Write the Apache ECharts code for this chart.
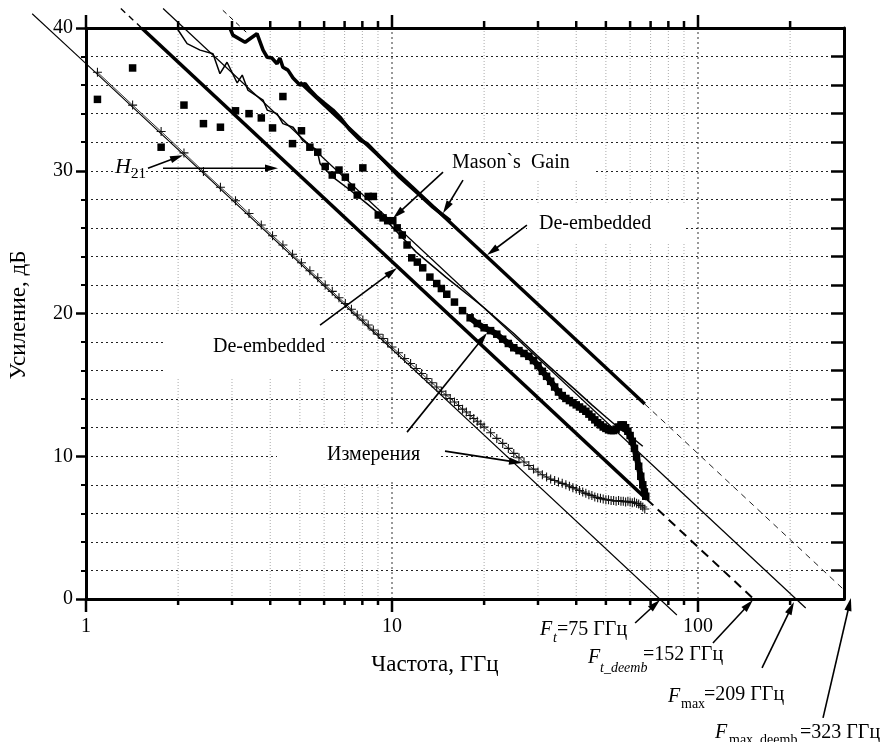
<!DOCTYPE html>
<html><head><meta charset="utf-8">
<script src="https://cdn.jsdelivr.net/npm/echarts@6/dist/echarts.min.js"></script>
<style>html,body{margin:0;padding:0;background:#fff}#c{width:884px;height:742px}</style>
</head><body><div id="c"></div>
<script>
const FONT = '"Liberation Serif","Times New Roman",serif';

// ---- axis ticks ----
const xMajorTicks = [1, 10, 100];
const xMinorTicks = [2,3,4,5,6,7,8,9,20,30,40,50,60,70,80,90,200];

// ---- fit lines [GHz, dB] ----
const h21FitOutside = [0.667, 41.0];                         // start of fit line, left of the plot
const h21Fit = [[1, 37.5], [85.3, -1.12]];                   // Ft = 75
const h21DeembTop = [[1.30, 41.36], [1.52, 40.0]];
const h21DeembSolid = [[1.52, 40.0], [68, 6.99]];            // Ft_deemb = 152
const h21DeembDash = [[68, 6.99], [152, 0]];
const masonFit = [[1.786, 41.37], [224.9, -0.63]];          // Fmax = 209
const masonDeembTop = [[2.80, 41.24], [3.40, 39.55]];
const masonDeembSolid = [[5.0, 36.2], [67, 13.66]];          // Fmax_deemb = 323
const masonDeembDash = [[67, 13.66], [351, -0.72]];

// ---- measured H21 (crosses) ----
const h21Measured = [[1.09,36.9],[1.42,34.6],[1.76,32.75],[2.09,31.25],[2.42,29.95],[2.75,28.85],[3.08,27.9],[3.41,27.0],[3.74,26.2],[4.07,25.45],[4.40,24.8],[4.73,24.15],[5.06,23.55],[5.39,23.0],[5.72,22.5],[6.05,22.0],[6.38,21.55],[6.71,21.1],[7.04,20.7],[7.37,20.3],[7.70,19.9],[8.03,19.55],[8.36,19.2],[8.69,18.85],[9.02,18.55],[9.35,18.25],[9.68,17.95],[10.0,17.65],[10.5,17.25],[11.0,16.85],[11.5,16.5],[12.0,16.15],[12.5,15.8],[13.0,15.45],[13.5,15.15],[14.0,14.85],[14.5,14.55],[15.0,14.3],[15.5,14.05],[16.0,13.8],[16.5,13.55],[17.0,13.3],[17.5,13.1],[18.0,12.85],[18.5,12.65],[19.0,12.45],[19.5,12.25],[20,12.05],[21,11.65],[22,11.25],[23,10.9],[24,10.55],[25,10.2],[26,9.9],[27,9.6],[28,9.35],[29,9.1],[30,8.9],[31,8.7],[32,8.55],[33,8.4],[34,8.3],[35,8.2],[36,8.1],[37,8.0],[38,7.9],[39,7.8],[40,7.7],[41,7.6],[42,7.5],[43,7.4],[44,7.3],[45,7.25],[46,7.15],[47,7.1],[48,7.05],[49,7.0],[50,6.95],[51,6.95],[52,6.9],[53,6.9],[54,6.85],[55,6.9],[56,6.85],[57,6.85],[58,6.8],[59,6.85],[60,6.8],[61,6.75],[62,6.8],[63,6.7],[64,6.65],[65,6.55],[66,6.45],[67,6.3]];

// ---- measured Mason's gain (squares) ----
const masonSquares = [[1.09,35.0],[1.42,37.2],[1.76,31.65],[2.09,34.6],[2.42,33.3],[2.75,33.05],[3.08,34.2],[3.41,34.0],[3.74,33.7],[4.07,33.0],[4.40,35.2],[4.73,31.9],[5.06,32.8],[5.39,31.65],[5.72,31.3],[6.05,30.3],[6.38,29.7],[6.71,30.05],[7.04,29.55],[7.37,28.85],[7.70,28.3],[8.03,30.2],[8.36,28.2],[8.69,28.2],[9.02,26.9],[9.35,26.7],[9.68,26.5],[10.06,26.5],[10.4,26.0],[10.8,25.5],[11.2,24.8],[11.6,23.9],[12.1,23.6],[12.6,23.2],[13.3,22.55],[14.0,22.1],[14.5,21.75],[15.1,21.35],[16.0,20.8],[17.0,20.2],[18.0,19.7],[19.0,19.3],[20,19.0],[21,18.8],[22,18.55],[23,18.2],[24,17.9],[25,17.6],[26,17.4],[27,17.2],[28,17.0],[29,16.7],[30,16.35],[31,15.95],[32,15.6],[33,15.25],[34,14.85],[35,14.5],[36,14.25],[37,14.05],[38,13.9],[39,13.75],[40,13.6],[41,13.45],[42,13.3],[43,13.15],[44,12.95],[45,12.75],[46,12.55],[47,12.35],[48,12.2],[49,12.05],[50,11.95],[51,11.85],[52,11.8],[53,11.8],[54,11.9],[55,12.05],[56,12.2],[57,12.2],[58,12.0],[59,11.75],[60,11.45],[61,11.05],[62,10.55],[63,9.95],[64,9.3],[65,8.6],[66,8.0],[66.8,7.5],[67.5,7.2]];
const denseBandStart = 18;   // GHz, where the square markers merge into a solid band

// ---- measured Mason's gain (thin line) ----
const masonLine = [[1.98,40.0],[2.14,38.9],[2.36,38.45],[2.60,38.2],[2.74,36.8],[2.89,37.6],[3.12,36.15],[3.24,36.7],[3.38,35.65],[3.79,34.95],[3.91,34.25],[4.21,34.0],[4.40,33.3],[4.75,33.05],[5.12,32.1],[5.69,31.45],[5.82,30.5],[6.41,29.55],[7.29,28.65],[8.28,27.7],[9.35,26.75],[12,24.3],[15,22.55],[20,20.4],[25,18.6],[30,17.0],[35,15.7],[40,14.6],[45,13.6],[50,12.75],[55,12.0],[60,11.4],[63,11.05],[66,10.7]];

// ---- de-embedded Mason's gain (thick wiggly) ----
const masonDeembMeas = [[2.955,40.0],[3.02,39.5],[3.31,39.0],[3.62,39.6],[3.79,38.45],[3.91,37.95],[4.05,37.9],[4.21,37.5],[4.30,37.9],[4.40,37.25],[4.57,37.05],[4.75,36.5],[5.0,36.0],[5.2,36.1],[5.40,35.65],[5.69,35.15],[5.95,34.8],[6.41,34.25],[6.76,33.75],[7.29,32.85],[7.86,32.15],[8.28,31.9],[9.35,30.75],[10.6,29.55],[12.1,28.45],[13.6,27.45],[15.5,26.5]];

const chart = echarts.init(document.getElementById('c'));

function lineSeries(data, width, extra) {
  return Object.assign({
    type: 'line', data: data, xAxisIndex: 0, yAxisIndex: 0,
    symbol: 'none', showSymbol: false, clip: false, animation: false, silent: true,
    lineStyle: { color: '#000', width: width }, z: 3
  }, extra || {});
}

const xTickData = xMajorTicks.map(v => [v, 1]).concat(xMinorTicks.map(v => [v, 0]));

const option = {
  animation: false,
  backgroundColor: '#fff',
  grid: { left: 86, top: 28, width: 758, height: 571, containLabel: false },
  xAxis: [
    { type: 'log', logBase: 10, min: 1, max: 300, position: 'bottom',
      axisLine: { show: true, onZero: false, lineStyle: { color: '#000', width: 3 } },
      axisTick: { show: false }, splitLine: { show: false },
      axisLabel: { color: '#000', fontFamily: FONT, fontSize: 20, margin: 18,
        formatter: v => { const l = Math.log10(v); return (Math.abs(l - Math.round(l)) < 1e-6 && v < 200) ? String(Math.round(v)) : ''; } } },
    { type: 'log', logBase: 10, min: 1, max: 300, position: 'top',
      axisLine: { show: true, onZero: false, lineStyle: { color: '#000', width: 3 } },
      axisTick: { show: false }, splitLine: { show: false }, axisLabel: { show: false } }
  ],
  yAxis: [
    { type: 'value', min: 0, max: 40, interval: 10, position: 'left',
      axisLine: { show: true, onZero: false, lineStyle: { color: '#000', width: 3 } },
      axisTick: { show: true, length: 10, lineStyle: { color: '#000', width: 2.5 } },
      minorTick: { show: true, splitNumber: 5, length: 5, lineStyle: { color: '#000', width: 2 } },
      axisLabel: { color: '#000', fontFamily: FONT, fontSize: 20, margin: 13 },
      splitLine: { show: true, lineStyle: { color: '#222', width: 1, type: [2, 3] } },
      minorSplitLine: { show: true, lineStyle: { color: '#222', width: 1, type: [2, 3] } } },
    { type: 'value', min: 0, max: 40, interval: 2, position: 'right',
      axisLine: { show: true, onZero: false, lineStyle: { color: '#000', width: 3 } },
      axisTick: { show: true, inside: true, length: 13, lineStyle: { color: '#000', width: 2.5 } },
      axisLabel: { show: false }, splitLine: { show: false } }
  ],
  series: [
    lineSeries(h21Fit, 1.1),
    lineSeries(h21Measured, 0.9, { symbol: 'path://M4.4,0H5.6V4.4H10V5.6H5.6V10H4.4V5.6H0V4.4H4.4Z', showSymbol: true, showAllSymbol: true, symbolSize: 9, itemStyle: { color: '#111', opacity: 1 }, lineStyle: { color: '#222', width: 0.9 } }),
    lineSeries(h21DeembTop, 1.4, { lineStyle: { color: '#000', width: 1.4, type: [6, 5] } }),
    lineSeries(h21DeembSolid, 3.6),
    lineSeries(h21DeembDash, 2, { lineStyle: { color: '#000', width: 2, type: [9, 6] } }),
    lineSeries(masonFit, 1.2),
    lineSeries(masonDeembTop, 1, { lineStyle: { color: '#000', width: 1, type: [5, 4] } }),
    lineSeries(masonDeembSolid, 3.4),
    lineSeries(masonDeembDash, 1, { lineStyle: { color: '#222', width: 1, type: [6, 5] } }),
    lineSeries(masonLine, 1.5),
    lineSeries(masonDeembMeas, 3.6),
    lineSeries(masonSquares.filter(d => d[0] >= denseBandStart), 6, { lineStyle: { color: '#000', width: 6, join: 'round', cap: 'round' } }),
    { type: 'scatter', data: masonSquares, xAxisIndex: 0, yAxisIndex: 0, symbol: 'rect', symbolSize: 7.5,
      itemStyle: { color: '#000', opacity: 1 }, animation: false, silent: true, z: 3 },
    { type: 'custom', data: xTickData, xAxisIndex: 0, yAxisIndex: 0, clip: false, silent: true, z: 0,
      encode: { x: 0, y: 1 },
      renderItem: function (params, api) {
        const v = api.value(0), major = api.value(1);
        const b = api.coord([v, 0]), t = api.coord([v, 40]);
        const ch = [];
        if (v !== 1) {
          const dark = (v === 10 || v === 100);
          ch.push({ type: 'line', shape: { x1: b[0], y1: b[1], x2: t[0], y2: t[1] },
            style: { stroke: dark ? '#333' : '#aaa', lineWidth: 1, lineDash: dark ? [2, 3] : [1, 2] } });
        }
        ch.push({ type: 'line', shape: { x1: b[0], y1: b[1], x2: b[0], y2: b[1] + (major ? 13 : 6) }, style: { stroke: '#000', lineWidth: 2.5 } });
        ch.push({ type: 'line', shape: { x1: t[0], y1: t[1], x2: t[0], y2: t[1] - (major ? 13 : 7) }, style: { stroke: '#000', lineWidth: 2.5 } });
        return { type: 'group', children: ch };
      } }
  ]
};
chart.setOption(option);

const P = d => chart.convertToPixel({ seriesIndex: 0 }, d);
// pixel x for any frequency (also left of the axis minimum), from the axis' own decade length
const x1px = P([1, 0])[0], decadePx = P([10, 0])[0] - x1px;
const PX = (f, db) => [x1px + Math.log10(f) * decadePx, P([1, db])[1]];

// arrows [from, to] in data coordinates
const arrows = [
  [[1.594, 30.18], [2.075, 31.09]],
  [[1.785, 30.18], [4.24, 30.18]],
  [[14.68, 29.9], [10.08, 26.68]],
  [[17.06, 29.34], [14.68, 27.03]],
  [[27.6, 26.19], [20.44, 24.09]],
  [[5.82, 19.19], [10.38, 23.18]],
  [[11.2, 11.69], [20.44, 18.63]],
  [[14.9, 10.36], [26.6, 9.52]],
  [[62.3, -1.68], [75.1, -0.07]],
  [[111.9, -3.08], [151.2, -0.07]],
  [[161.9, -4.83], [205.9, -0.21]],
  [[256.2, -8.33], [316, 0.07]]
];

function arrowEls(a, b) {
  const p = P(a), q = P(b);
  const dx = q[0] - p[0], dy = q[1] - p[1], L = Math.hypot(dx, dy), ux = dx / L, uy = dy / L;
  const hl = 13, hw = 3.6;
  const bx = q[0] - ux * hl, by = q[1] - uy * hl;
  return [
    { type: 'line', z: 6, shape: { x1: p[0], y1: p[1], x2: bx + ux * 2, y2: by + uy * 2 }, style: { stroke: '#000', lineWidth: 1.6 } },
    { type: 'polygon', z: 6, shape: { points: [[q[0], q[1]], [bx - uy * hw, by + ux * hw], [bx + uy * hw, by - ux * hw]] }, style: { fill: '#000' } }
  ];
}

// text: x = left edge of the glyphs, y = vertical centre of the glyphs; pad = [top, right, bottom, left]
function T(text, x, y, size, opt) {
  opt = opt || {};
  const pad = opt.pad || [0, 0, 0, 0];
  const align = opt.align || 'left';
  return { type: 'text', x: x - (align === 'left' ? pad[3] : 0), y: y - (pad[0] - pad[2]) / 2, z: opt.z || 2, rotation: opt.rotation || 0,
    style: { text: text, fill: '#000', fontFamily: FONT, fontSize: size, fontStyle: opt.italic ? 'italic' : 'normal',
      align: align, verticalAlign: 'middle', textAlign: align, textVerticalAlign: 'middle',
      backgroundColor: opt.pad ? '#fff' : null, padding: pad } };
}

const els = [];
// outside-the-plot start of the H21 fit line
const hs = PX(h21FitOutside[0], h21FitOutside[1]), he = P(h21Fit[0]);
els.push({ type: 'line', z: 3, shape: { x1: hs[0], y1: hs[1], x2: he[0], y2: he[1] }, style: { stroke: '#000', lineWidth: 1.1 } });
arrows.forEach(a => els.push(...arrowEls(a[0], a[1])));
els.push(
  T('Усиление, дБ', 19, 315, 23, { align: 'center', rotation: Math.PI / 2 }),
  T('Частота, ГГц', 435, 665, 23, { align: 'center' }),
  T('H', 115, 167, 22, { italic: true, pad: [2, 0, 2, 2] }),
  T('21', 131, 174, 15, {}),
  T('Mason`s  Gain', 452, 163, 20, { pad: [8, 24, 8, 14] }),
  T('De-embedded', 539, 224, 20, { pad: [10, 34, 10, 12] }),
  T('De-embedded', 213, 355, 20, { pad: [30, 6, 14, 50] }),
  T('Измерения', 327, 452, 20, { pad: [14, 18, 20, 50] }),
  T('F', 540, 630, 20, { italic: true }),
  T('t', 553, 638, 14, { italic: true }),
  T('=75 ГГц', 557, 630, 20),
  T('F', 588, 658, 20, { italic: true }),
  T('t_deemb', 600, 668, 14, { italic: true }),
  T('=152 ГГц', 643, 655, 20),
  T('F', 668, 697, 20, { italic: true }),
  T('max', 681, 704, 14),
  T('=209 ГГц', 704, 695, 20),
  T('F', 715, 733, 20, { italic: true }),
  T('max  deemb', 729, 740, 14),
  T('=323 ГГц', 800, 733, 20)
);
chart.setOption({ graphic: { elements: els } });
</script>
</body></html>
